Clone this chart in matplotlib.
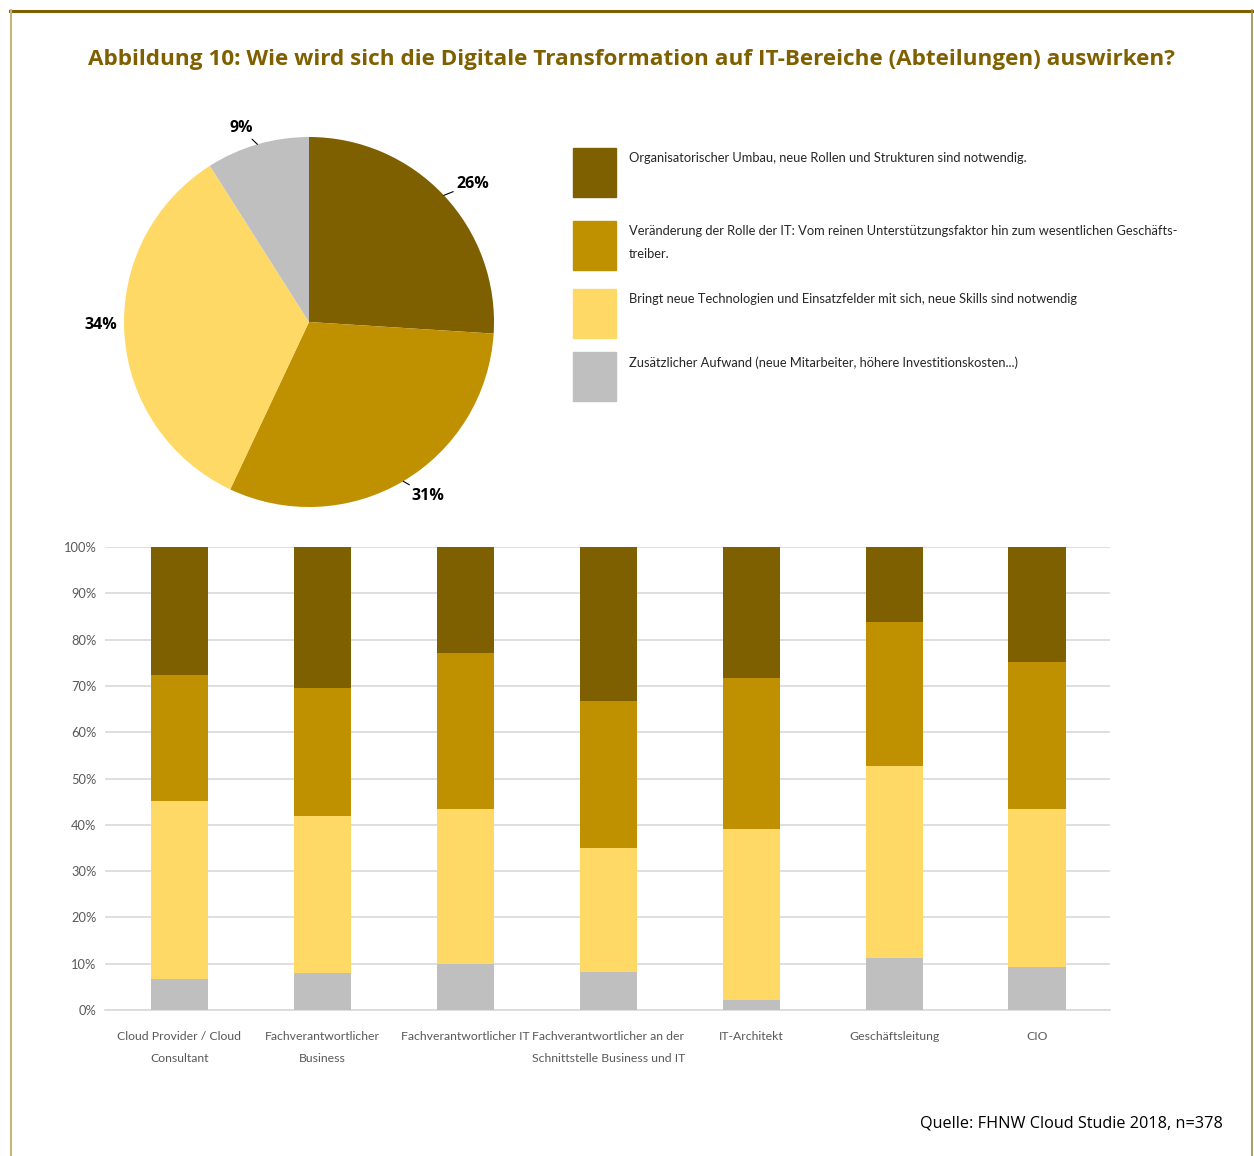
import matplotlib
matplotlib.use("Agg")
import matplotlib.pyplot as plt
from matplotlib.patches import Rectangle
from matplotlib.lines import Line2D
import numpy as np

TITLE = "Abbildung 10: Wie wird sich die Digitale Transformation auf IT-Bereiche (Abteilungen) auswirken?"
SOURCE = "Quelle: FHNW Cloud Studie 2018, n=378"

series = [
    "Organisatorischer Umbau, neue Rollen und Strukturen sind notwendig.",
    "Veränderung der Rolle der IT: Vom reinen Unterstützungsfaktor hin zum wesentlichen Geschäfts-\ntreiber.",
    "Bringt neue Technologien und Einsatzfelder mit sich, neue Skills sind notwendig",
    "Zusätzlicher Aufwand (neue Mitarbeiter, höhere Investitionskosten...)",
]
colors = ["#7F6000", "#BF9000", "#FFD966", "#BFBFBF"]

pie_values = [26, 31, 34, 9]

groups = [
    "Cloud Provider / Cloud\nConsultant",
    "Fachverantwortlicher\nBusiness",
    "Fachverantwortlicher IT",
    "Fachverantwortlicher an der\nSchnittstelle Business und IT",
    "IT-Architekt",
    "Geschäftsleitung",
    "CIO",
]
# shares per group, same order as the series
organisation = [27.6, 30.5, 22.9, 33.3, 28.3, 16.2, 24.8]
rolle_it = [27.3, 27.6, 33.7, 31.7, 32.6, 31.1, 31.8]
technologien = [38.4, 33.9, 33.5, 26.8, 36.9, 41.5, 34.1]
aufwand = [6.7, 8.0, 9.9, 8.2, 2.2, 11.2, 9.3]

SANS = ["Open Sans", "DejaVu Sans"]
SMALL = ["Lato", "DejaVu Sans"]
W, H = 1254, 1156
fig = plt.figure(figsize=(W / 100, H / 100), dpi=100)

# overlay in pixel coordinates for frame, title, legend and source
over = fig.add_axes([0, 0, 1, 1])
over.set_xlim(0, W)
over.set_ylim(H, 0)
over.axis("off")
over.add_line(Line2D([10, 1253], [11, 11], color="#7F6000", lw=2.2))
over.add_line(Line2D([11, 11], [10, H], color="#C9B47A", lw=1.5))
over.add_line(Line2D([1252, 1252], [10, H], color="#A08A4A", lw=1.2))
over.text(631, 60, TITLE, ha="center", va="center", fontsize=16.2,
          fontweight="bold", color="#7F6000", family=SANS)
over.text(1223, 1124, SOURCE, ha="right", va="center", fontsize=11.7,
          color="black", family=SANS)

legend_tops = [148, 221, 289, 352]
for top, col, lab in zip(legend_tops, colors, series):
    over.add_patch(Rectangle((573, top), 43, 49, color=col))
    over.text(629, top + 4, lab, ha="left", va="top", fontsize=9.3,
              color="#262626", family=SMALL, linespacing=2.05)

# pie
cx, cy, r = 309, 322, 185
pax = fig.add_axes([(cx - r) / W, 1 - (cy + r) / H, 2 * r / W, 2 * r / H])
wedges, _ = pax.pie(pie_values, colors=colors, startangle=90, counterclock=False,
                    radius=1, wedgeprops=dict(linewidth=0))
pax.set_xlim(-1, 1)
pax.set_ylim(-1, 1)
pax.set_aspect("equal")
for w, v in zip(wedges, pie_values):
    mid = np.deg2rad((w.theta1 + w.theta2) / 2)
    ex, ey = np.cos(mid), np.sin(mid)
    ha = "left" if ex > 0 else "right"
    if v == 34:
        pax.text(1.04 * ex, 1.04 * ey + 0.05, f"{v}%", ha=ha, va="center",
                 fontsize=11.5, fontweight="bold", family=SANS)
    else:
        pax.annotate(f"{v}%", xy=(ex, ey), xytext=(1.09 * ex, 1.09 * ey),
                     ha=ha, va="center", fontsize=11.5, fontweight="bold",
                     family=SANS,
                     arrowprops=dict(arrowstyle="-", color="black", lw=0.8,
                                     shrinkA=0, shrinkB=0))

# stacked bars
bax = fig.add_axes([105 / W, 1 - 1010 / H, 1005 / W, 463 / H])
x = np.arange(len(groups))
bottom = np.zeros(len(groups))
for vals, col in zip([aufwand, technologien, rolle_it, organisation], colors[::-1]):
    bax.bar(x, vals, 0.4, bottom=bottom, color=col, zorder=3)
    bottom += np.array(vals)
bax.set_xlim(-0.52, len(groups) - 0.49)
bax.set_ylim(0, 100)
bax.set_yticks(range(0, 101, 10))
bax.set_yticklabels([f"{t}%" for t in range(0, 101, 10)])
bax.grid(axis="y", color="#D9D9D9", lw=1.2, zorder=0)
bax.set_xticks(x)
bax.set_xticklabels(groups, linespacing=2.25)
for s in ["top", "right", "left"]:
    bax.spines[s].set_visible(False)
bax.spines["bottom"].set_color("#D9D9D9")
bax.spines["bottom"].set_linewidth(1.2)
bax.tick_params(length=0, labelsize=9.3, labelcolor="#595959")
bax.tick_params(axis="x", pad=15, labelsize=8.8)
bax.tick_params(axis="y", pad=6)
for t in bax.get_xticklabels() + bax.get_yticklabels():
    t.set_family(SMALL)

fig.savefig("out.png", dpi=100)
